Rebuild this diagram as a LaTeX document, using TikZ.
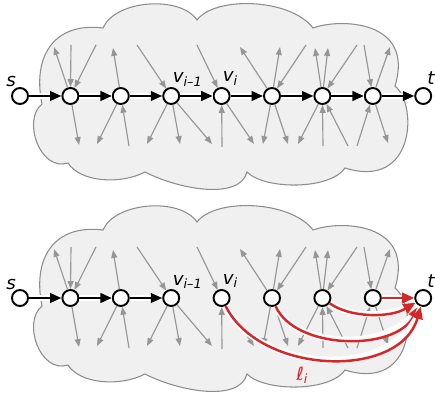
\documentclass[tikz,border=0pt]{standalone}
\usepackage{fontspec}
\setmainfont{DejaVu Sans}
\usetikzlibrary{arrows.meta}
\definecolor{cloudgray}{RGB}{240,240,240}
\definecolor{edgegray}{RGB}{140,140,140}
\definecolor{arcgray}{RGB}{150,150,150}
\definecolor{longred}{RGB}{214,39,40}
\tikzstyle{vertex} = [
    circle,
    draw=black,
    line width=1.1pt,
    fill=white,
    inner sep=0pt,
    minimum size=0.32cm
]
\tikzstyle{blob} = [
    fill=cloudgray,
    draw=edgegray,
    line width=0.6pt
]
\tikzstyle{side} = [
    -{Triangle[length=4.5pt,width=3.4pt]},
    draw=arcgray,
    line width=0.65pt
]
\tikzstyle{path arc} = [
    -{Triangle[length=6.5pt,width=5.5pt]},
    line width=1.1pt,
    preaction={draw=white, line width=3pt, arrows=-}
]
\tikzstyle{long arc} = [
    -{Triangle[length=7pt,width=6pt]},
    draw=longred,
    line width=1.4pt,
    preaction={draw=white, line width=3.5pt, arrows=-}
]
\tikzstyle{lbl} = [
    anchor=base west,
    inner sep=0pt,
    font=\fontsize{10.4}{12}\selectfont\itshape
]
\begin{document}
\begin{tikzpicture}[x=0.02cm, y=-0.02cm]
    \useasboundingbox (0,0) rectangle (435,398);
    \foreach \r/\yy in {a/96, b/298}{
        \begin{scope}[shift={(0,\yy-96)}]
            \path[blob] (42,104) .. controls (32,55) and (55,22) .. (103,28)
                .. controls (115,0) and (180,-5) .. (197,20)
                .. controls (215,-4) and (290,-2) .. (313,28)
                .. controls (340,18) and (415,20) .. (395,86)
                .. controls (418,105) and (415,190) .. (345,168)
                .. controls (330,190) and (265,190) .. (247,172)
                .. controls (240,200) and (180,190) .. (145,172)
                .. controls (120,185) and (80,182) .. (68,163)
                .. controls (40,172) and (22,120) .. cycle;
            \foreach \n in {0,...,8}
                \node[vertex] (\r\n) at (20+50.4*\n, 96) {};
            \foreach \n/\x/\y in {1/54/47, 1/79/145, 2/113/48, 2/97/144, 3/147/144,
                    3/180/144, 3/212/144, 4/254/144, 5/240/47, 5/280/47, 5/263/144,
                    5/288/144, 6/315/48, 6/328/48, 6/298/144, 7/390/47, 7/388/143}
                \draw[side] (\r\n) -- (\x,\y);
            \foreach \n/\x/\y in {1/71/45, 1/96/45, 2/129/146, 3/137/45, 4/197/45,
                    4/222/147, 5/306/45, 6/357/45, 6/323/146, 6/348/146, 7/364/45,
                    7/357/146}
                \draw[side] (\x,\y) -- (\r\n);
            \node[lbl] (\r-s) at (6,87) {s};
            \node[lbl] (\r-vim) at (172.5,83) {v\textsubscript{i–1}};
            \node[lbl] (\r-vi) at (222.5,82) {v\textsubscript{i}};
            \node[lbl] (\r-t) at (427,85) {t};
        \end{scope}
    }
    \foreach \n [remember=\n as \p (initially 0)] in {1,...,8}
        \draw[path arc] (a\p) -- (a\n);
    \foreach \n [remember=\n as \p (initially 0)] in {1,2,3}
        \draw[path arc] (b\p) -- (b\n);
    \draw[long arc] (b7) -- (b8);
    \draw[long arc] (b6) .. controls (350,318) and (390,318) .. (b8);
    \draw[long arc] (b5) .. controls (295,350) and (395,352) .. (b8);
    \draw[long arc] (b4) .. controls (260,375) and (400,380) .. (b8);
    \node[lbl, text=longred] (ell) at (296,380) {ℓ\textsubscript{i}};
\end{tikzpicture}
\end{document}
